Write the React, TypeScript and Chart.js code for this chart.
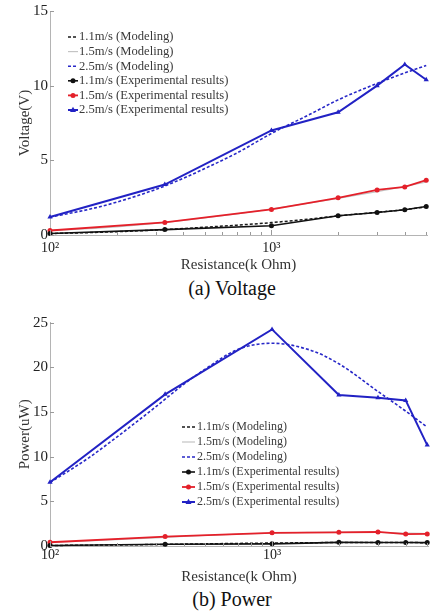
import React, { useEffect, useRef } from "react";
import { Chart, registerables } from "chart.js";

Chart.register(...registerables);

const FONT = '"Liberation Serif", "Times New Roman", serif';

// ---------- data ----------
const resistance = [100, 330, 1000, 2000, 3000, 4000, 5000];
const modelResistance = [100, 150, 200, 300, 400, 500, 700, 1000, 1500, 2000, 3000, 4000, 5000];

const voltage11Model = [0.1, 0.16, 0.22, 0.33, 0.43, 0.52, 0.66, 0.83, 1.08, 1.28, 1.52, 1.7, 1.88];
const voltage15Model = [0.3, 0.42, 0.55, 0.78, 0.98, 1.15, 1.42, 1.75, 2.15, 2.45, 2.9, 3.25, 3.55];
const voltage25Model = [1.2, 1.72, 2.2, 3.05, 3.8, 4.45, 5.5, 6.8, 8.1, 9.05, 10.15, 10.85, 11.35];
const voltage11Exp = [0.1, 0.36, 0.62, 1.29, 1.51, 1.69, 1.91];
const voltage15Exp = [0.3, 0.84, 1.71, 2.49, 3.02, 3.22, 3.67];
const voltage25Exp = [1.2, 3.38, 7.0, 8.22, 10.0, 11.42, 10.4];

const power11Model = [0.06, 0.09, 0.12, 0.17, 0.21, 0.24, 0.29, 0.33, 0.37, 0.39, 0.4, 0.39, 0.37];
const power15Model = [0.42, 0.58, 0.72, 0.92, 1.07, 1.18, 1.33, 1.45, 1.52, 1.55, 1.52, 1.45, 1.38];
const power25Model = [7.1, 9.9, 12.2, 15.6, 18.1, 19.8, 22.0, 22.7, 21.9, 20.4, 17.3, 15.1, 13.3];
const power11Exp = [0.05, 0.2, 0.24, 0.41, 0.4, 0.4, 0.38];
const power15Exp = [0.42, 1.05, 1.48, 1.53, 1.57, 1.33, 1.35];
const power25Exp = [7.13, 16.98, 24.25, 16.9, 16.6, 16.3, 11.3];

const legendLabels = [
  "1.1m/s (Modeling)",
  "1.5m/s (Modeling)",
  "2.5m/s (Modeling)",
  "1.1m/s (Experimental results)",
  "1.5m/s (Experimental results)",
  "2.5m/s (Experimental results)",
];

const xTickLabels: Record<number, string> = { 100: "10\u00B2", 1000: "10\u00B3" };
const xMin = 100;
const xMax = 5040;
const voltageTicks = { min: 0, max: 15, step: 5 };
const powerTicks = { min: 0, max: 25, step: 5 };

// ---------- helpers ----------
const pts = (xs: number[], ys: number[]) => xs.map((x, i) => ({ x, y: ys[i] }));

function drawMarker(ctx: CanvasRenderingContext2D, style: string, x: number, y: number, r: number, color: string) {
  ctx.fillStyle = color;
  ctx.strokeStyle = color;
  ctx.beginPath();
  if (style === "triangle") {
    ctx.moveTo(x, y - r * 1.1);
    ctx.lineTo(x + r, y + r * 0.7);
    ctx.lineTo(x - r, y + r * 0.7);
    ctx.closePath();
  } else {
    ctx.arc(x, y, r, 0, Math.PI * 2);
  }
  ctx.fill();
}

const insideLegend = {
  id: "insideLegend",
  afterDraw(chart: any, _args: any, opts: any) {
    if (!opts || !opts.show) return;
    const ctx: CanvasRenderingContext2D = chart.ctx;
    ctx.save();
    ctx.font = `${opts.fontSize}px ${FONT}`;
    ctx.textBaseline = "middle";
    ctx.textAlign = "left";
    chart.data.datasets.forEach((ds: any, i: number) => {
      const y = opts.y + i * opts.row;
      const x0 = opts.x;
      const x1 = opts.x + opts.sample;
      ctx.strokeStyle = ds.borderColor;
      ctx.lineWidth = ds.borderWidth;
      ctx.setLineDash(ds.borderDash || []);
      ctx.beginPath();
      ctx.moveTo(x0, y);
      ctx.lineTo(x1, y);
      ctx.stroke();
      ctx.setLineDash([]);
      if (ds.pointRadius > 0) drawMarker(ctx, ds.pointStyle, (x0 + x1) / 2, y, ds.pointRadius, ds.borderColor);
      ctx.fillStyle = opts.color;
      ctx.fillText(ds.label, x1 + opts.gap, y);
    });
    ctx.restore();
  },
};

const inwardTicks = {
  id: "inwardTicks",
  afterDatasetsDraw(chart: any) {
    const { ctx, chartArea, scales } = chart;
    const xs = scales.x;
    const ys = scales.y;
    ctx.save();
    ctx.strokeStyle = "#9a9a9a";
    ctx.lineWidth = 1;
    xs.ticks.forEach((t: any) => {
      const v = t.value;
      const mant = v / Math.pow(10, Math.floor(Math.log10(v) + 1e-9));
      if (Math.abs(mant - Math.round(mant)) > 1e-6) return;
      const major = Math.abs(mant - 1) < 1e-6;
      const px = Math.round(xs.getPixelForValue(v)) + 0.5;
      ctx.beginPath();
      ctx.moveTo(px, chartArea.bottom);
      ctx.lineTo(px, chartArea.bottom - (major ? 5 : 3));
      ctx.stroke();
    });
    ys.ticks.forEach((t: any) => {
      const py = Math.round(ys.getPixelForValue(t.value)) + 0.5;
      ctx.beginPath();
      ctx.moveTo(chartArea.left, py);
      ctx.lineTo(chartArea.left + 4, py);
      ctx.stroke();
    });
    ctx.restore();
  },
};

const smooth = { cubicInterpolationMode: "monotone", tension: 0.4 };

function makeDatasets(m11: number[], m15: number[], m25: number[], e11: number[], e15: number[], e25: number[]) {
  return [
    { label: legendLabels[0], data: pts(modelResistance, m11), borderColor: "#1a1a1a", borderWidth: 1.5, borderDash: [3, 2], pointRadius: 0, order: 1, ...smooth },
    { label: legendLabels[1], data: pts(modelResistance, m15), borderColor: "#c4c4c4", borderWidth: 1.2, pointRadius: 0, order: 2, ...smooth },
    { label: legendLabels[2], data: pts(modelResistance, m25), borderColor: "#2828c8", borderWidth: 1.6, borderDash: [3, 2], pointRadius: 0, order: 1, ...smooth },
    { label: legendLabels[3], data: pts(resistance, e11), borderColor: "#111111", backgroundColor: "#111111", borderWidth: 1.6, pointRadius: 2.5, pointStyle: "circle", order: 0, tension: 0 },
    { label: legendLabels[4], data: pts(resistance, e15), borderColor: "#e4202a", backgroundColor: "#e4202a", borderWidth: 1.8, pointRadius: 2.5, pointStyle: "circle", order: 0, tension: 0 },
    { label: legendLabels[5], data: pts(resistance, e25), borderColor: "#2222c4", backgroundColor: "#2222c4", borderWidth: 2, pointRadius: 3, pointStyle: "triangle", order: 0, tension: 0 },
  ];
}

interface Cfg {
  datasets: any[];
  yTitle: string;
  yTicks: { min: number; max: number; step: number };
  padTop: number;
  xTickPad: number;
  xTitlePad: number;
  legend: any;
}

function buildConfig(c: Cfg): any {
  return {
    type: "line",
    data: { datasets: c.datasets.map((d) => ({ ...d, fill: false, clip: false, pointBorderWidth: 0 })) },
    options: {
      responsive: false,
      animation: false,
      events: [],
      layout: { padding: { top: c.padTop, left: 0, right: 0, bottom: 0 } },
      plugins: {
        legend: { display: false },
        tooltip: { enabled: false },
        insideLegend: c.legend,
      },
      scales: {
        x: {
          type: "logarithmic",
          min: xMin,
          max: xMax,
          grid: { display: false, drawTicks: false },
          border: { display: true, color: "#b4b4b4", width: 1 },
          ticks: {
            autoSkip: false,
            maxRotation: 0,
            padding: c.xTickPad,
            color: "#222",
            font: { family: FONT, size: 14 },
            callback: (v: any) => xTickLabels[Number(v)] ?? "",
          },
          title: {
            display: true,
            text: "Resistance(k Ohm)",
            color: "#333",
            font: { family: FONT, size: 15 },
            padding: { top: 0, bottom: c.xTitlePad },
          },
          afterFit: (s: any) => {
            s.height = 40;
          },
        },
        y: {
          type: "linear",
          min: c.yTicks.min,
          max: c.yTicks.max,
          grid: { display: false, drawTicks: false },
          border: { display: true, color: "#b4b4b4", width: 1 },
          ticks: {
            stepSize: c.yTicks.step,
            padding: 2,
            color: "#222",
            font: { family: FONT, size: 15 },
          },
          title: {
            display: true,
            text: c.yTitle,
            color: "#333",
            font: { family: FONT, size: 15 },
            padding: { top: 16, bottom: 0 },
          },
          afterFit: (s: any) => {
            s.width = 50;
          },
        },
      },
    },
    plugins: [insideLegend, inwardTicks],
  };
}

function ChartCanvas({ config, top, height }: { config: any; top: number; height: number }) {
  const ref = useRef<HTMLCanvasElement | null>(null);
  useEffect(() => {
    if (!ref.current) return;
    const chart = new Chart(ref.current, config);
    return () => chart.destroy();
  }, [config]);
  return (
    <canvas
      ref={ref}
      width={432}
      height={height}
      style={{ position: "absolute", left: 0, top, width: 432, height }}
    />
  );
}

const voltageConfig = buildConfig({
  datasets: makeDatasets(voltage11Model, voltage15Model, voltage25Model, voltage11Exp, voltage15Exp, voltage25Exp),
  yTitle: "Voltage(V)",
  yTicks: voltageTicks,
  padTop: 10,
  xTickPad: 5,
  xTitlePad: 1,
  legend: { show: true, x: 68, y: 37, row: 14.6, sample: 10, gap: 1, fontSize: 12.6, color: "#3a3a3a" },
});

const powerConfig = buildConfig({
  datasets: makeDatasets(power11Model, power15Model, power25Model, power11Exp, power15Exp, power25Exp),
  yTitle: "Power(uW)",
  yTicks: powerTicks,
  padTop: 22.7,
  xTickPad: 1,
  xTitlePad: 0,
  legend: { show: true, x: 182, y: 127, row: 15, sample: 13, gap: 2, fontSize: 12, color: "#3a3a3a" },
});

const captionStyle: React.CSSProperties = {
  position: "absolute",
  left: 0,
  width: 464,
  textAlign: "center",
  fontFamily: FONT,
  fontSize: 20,
  lineHeight: "24px",
  color: "#111",
};

export default function App() {
  return (
    <div style={{ position: "absolute", left: 0, top: 0, width: 432, height: 613, overflow: "hidden", background: "#fff" }}>
      <ChartCanvas config={voltageConfig} top={0} height={275} />
      <div style={{ ...captionStyle, top: 276 }}>(a) Voltage</div>
      <ChartCanvas config={powerConfig} top={300} height={286} />
      <div style={{ ...captionStyle, top: 587 }}>(b) Power</div>
    </div>
  );
}
